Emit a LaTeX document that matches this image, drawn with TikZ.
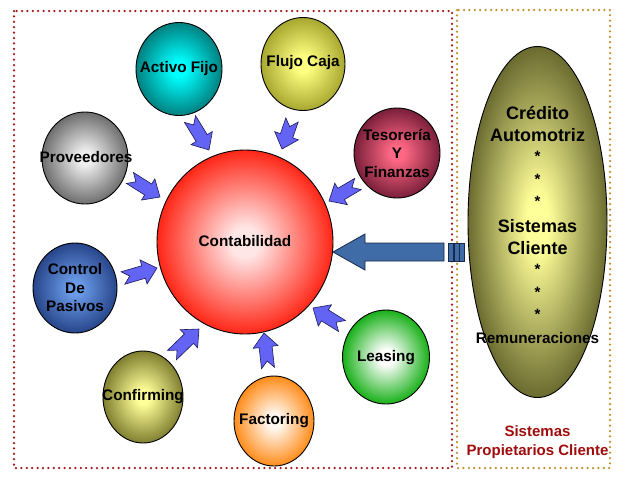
\documentclass[tikz,border=0pt]{standalone}
\usepackage{fontspec}
\setmainfont{Liberation Sans}
\usetikzlibrary{calc,shapes.geometric}
\definecolor{dotred}{HTML}{A01818}
\definecolor{dotgold}{HTML}{C0902A}
\definecolor{labred}{HTML}{A00C0C}
\definecolor{arrowfill}{HTML}{6464F4}
\definecolor{arrowline}{HTML}{1A1A5A}
\definecolor{bigfillA}{HTML}{3F6CA6}
\definecolor{bigfillB}{HTML}{5890D2}
\definecolor{bigline}{HTML}{1A2A4A}
\definecolor{bubin}{HTML}{FFFFFF}
\definecolor{bubout}{HTML}{000000}
\pgfdeclareradialshading[bubin,bubout]{softradial}{\pgfpoint{0bp}{0bp}}{%
  color(0bp)=(bubin); color(4bp)=(bubin); color(25bp)=(bubout); color(50bp)=(bubout)}
\newcommand\flowarrow[2]{%
  \pgfpointdiff{\pgfpointanchor{#1}{center}}{\pgfpointanchor{#2}{center}}%
  \pgfgetlastxy{\fadx}{\fady}%
  \pgfmathsetmacro\faang{atan2(\fady,\fadx)}%
  \pgfmathsetmacro\falen{veclen(\fadx,\fady)}%
  \begin{scope}[shift={(#1)}, rotate=\faang]
    \draw[smallarrow] (0,-6.5) -- ({\falen-14},-6.5) -- ({\falen-14},-12.5) -- (\falen,0)
      -- ({\falen-14},12.5) -- ({\falen-14},6.5) -- (0,6.5) -- (7,0) -- cycle;
  \end{scope}}
\begin{document}
\begin{tikzpicture}[x=1pt,y=-1pt,
  bubble/.style 2 args={ellipse, draw=black, line width=0.9pt, inner sep=0pt,
    /utils/exec={\definecolor{bubin}{HTML}{#1}\definecolor{bubout}{HTML}{#2}}, shading=softradial},
  lbl/.style={font=\fontsize{15.3}{18.5}\selectfont\bfseries, align=center, text=black, inner sep=0pt},
  biglbl/.style={font=\fontsize{18}{22.5}\selectfont\bfseries, align=center, text=black, inner sep=0pt},
  starlbl/.style={font=\fontsize{15}{22.5}\selectfont\bfseries, align=center, text=black, inner sep=0pt},
  smallarrow/.style={fill=arrowfill, draw=arrowline, line width=0.6pt, line join=miter},
  bigarrow/.style={top color=bigfillA, middle color=bigfillB, bottom color=bigfillA, draw=bigline, line width=0.8pt},
  reddots/.style={draw=dotred, line width=2.5pt, line cap=round, dash pattern=on 0pt off 5.4pt},
  golddots/.style={draw=dotgold, line width=2.5pt, line cap=round, dash pattern=on 0pt off 5.4pt}]
\useasboundingbox (0,0) rectangle (626,485);
\fill[white] (0,0) rectangle (626,485);

% frames
\draw[reddots] (14,11) rectangle (452,468);
\draw[golddots] (457,10) rectangle (610,468);

% central circle
\node[bubble={FFE6E6}{FF2616}, minimum width=176pt, minimum height=184pt] (conta) at (245,242) {};
\node[lbl] (contaT) at (245,241) {Contabilidad};

% satellites
\node[bubble={00FFFF}{008080}, minimum width=86pt, minimum height=93pt] (activo) at (179,69) {};
\node[lbl] (activoT) at (179,69) {Activo Fijo};

\node[bubble={FFFF80}{A8A830}, minimum width=84pt, minimum height=93pt] (flujo) at (303,64) {};
\node[lbl] (flujoT) at (303,63) {Flujo Caja};

\node[bubble={FF6884}{7A1F3A}, minimum width=86pt, minimum height=90pt] (teso) at (397,153) {};
\node[lbl] (tesoT) at (397,153) {Tesorería\\Y\\Finanzas};

\node[bubble={EEEEEE}{6E6E6E}, minimum width=86pt, minimum height=92pt] (prov) at (85,158) {};
\node[lbl] (provT) at (86,157) {Proveedores};

\node[bubble={6A9AE8}{27458A}, minimum width=84pt, minimum height=90pt] (ctrl) at (75,288) {};
\node[lbl] (ctrlT) at (75,288) {Control\\De\\Pasivos};

\node[bubble={FFFF99}{7F7F30}, minimum width=80pt, minimum height=92pt] (confirm) at (143,397) {};
\node[lbl] (confirmT) at (143,397) {Confirming};

\node[bubble={FFF8F0}{FF8C1A}, minimum width=80pt, minimum height=90pt] (fact) at (274,421) {};
\node[lbl] (factT) at (274,421) {Factoring};

\node[bubble={FFFFFF}{18B018}, minimum width=87pt, minimum height=94pt] (leas) at (386,357) {};
\node[lbl] (leasT) at (386,358) {Leasing};

% big ellipse
\node[bubble={FFFF99}{6B6B30}, minimum width=139pt, minimum height=351pt] (sys) at (537.5,222) {};
\node[biglbl] (sysA) at (537.5,124) {Crédito\\Automotriz};
\node[starlbl] (sysS1) at (537.5,179) {*\\*\\*};
\node[biglbl] (sysB) at (537.5,237) {Sistemas\\Cliente};
\node[starlbl] (sysS2) at (537.5,292) {*\\*\\*};
\node[lbl] (sysC) at (537.5,338) {Remuneraciones};

% bottom caption
\node[font=\fontsize{15}{18.5}\selectfont\bfseries, text=labred, align=center, inner sep=0pt] (capt) at (537.5,442) {Sistemas\\Propietarios Cliente};

% small arrows
\coordinate (a1) at (190,119); \coordinate (b1) at (209,150);
\coordinate (a2) at (292,120); \coordinate (b2) at (282,149);
\coordinate (a3) at (358,184); \coordinate (b3) at (329,201);
\coordinate (a4) at (130,178); \coordinate (b4) at (160,197);
\coordinate (a5) at (123,278); \coordinate (b5) at (157,268);
\coordinate (a6) at (172,355); \coordinate (b6) at (199,329);
\coordinate (a7) at (268,368); \coordinate (b7) at (264,333);
\coordinate (a8) at (342,326); \coordinate (b8) at (313,308);
\flowarrow{a1}{b1}
\flowarrow{a2}{b2}
\flowarrow{a3}{b3}
\flowarrow{a4}{b4}
\flowarrow{a5}{b5}
\flowarrow{a6}{b6}
\flowarrow{a7}{b7}
\flowarrow{a8}{b8}

% big arrow
\coordinate (bigtip) at (333,252);
\coordinate (bigtail) at (444,252);
\draw[bigarrow] (bigtip) -- ++(32,-18) -- ++(0,9) -- ($(bigtail)+(0,-9)$) -- ($(bigtail)+(0,9)$)
  -- ($(bigtip)+(32,9)$) -- ++(0,9) -- cycle;
\draw[bigarrow] ($(bigtail)+(4,-9)$) rectangle ++(5,18);
\draw[bigarrow] ($(bigtail)+(10,-9)$) rectangle ++(5,18);
\draw[bigarrow] ($(bigtail)+(15,-9)$) rectangle ++(5,18);
\end{tikzpicture}
\end{document}
